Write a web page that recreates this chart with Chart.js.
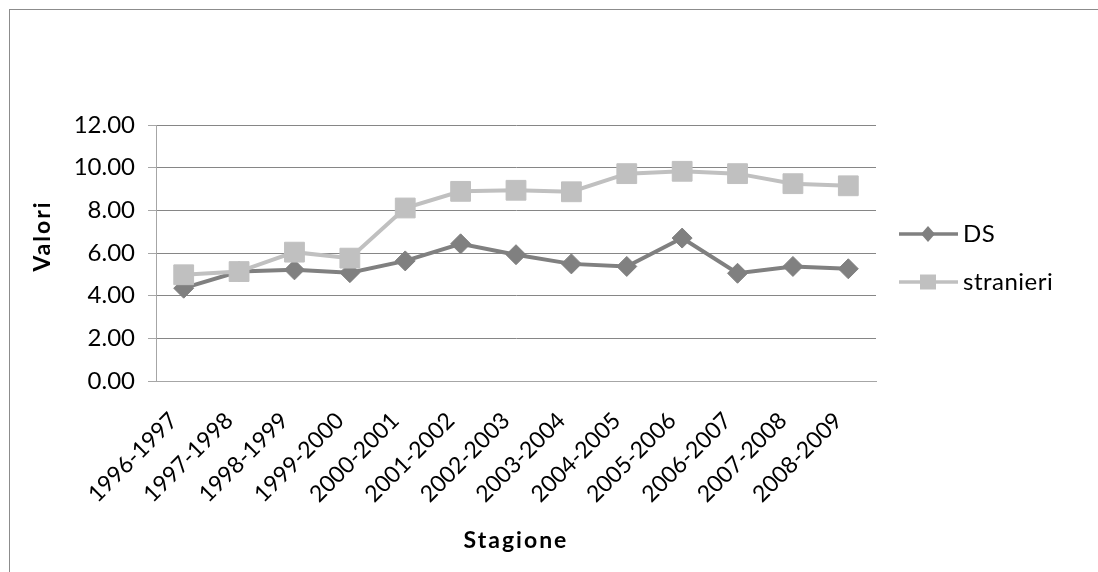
<!DOCTYPE html>
<html>
<head>
<meta charset="utf-8">
<script src="https://cdn.jsdelivr.net/npm/chart.js@4.4.1/dist/chart.umd.min.js"></script>
<style>
  html, body { margin: 0; padding: 0; background: #fff; overflow: hidden; }
  #wrap { position: relative; width: 1098px; height: 572px; }
  #frame { position: absolute; left: 9px; top: 9px; width: 1200px; height: 700px;
           border-left: 1px solid #8c8c8c; border-top: 1px solid #8c8c8c; }
  canvas { position: absolute; left: 0; top: 0; }
</style>
</head>
<body>
<div id="wrap">
  <div id="frame"></div>
  <canvas id="chart" width="1098" height="572"></canvas>
</div>
<script>
// dati
const stagioni = ['1996-1997', '1997-1998', '1998-1999', '1999-2000', '2000-2001', '2001-2002',
  '2002-2003', '2003-2004', '2004-2005', '2005-2006', '2006-2007', '2007-2008', '2008-2009'];
const valoriDS = [4.35, 5.13, 5.21, 5.08, 5.63, 6.43, 5.92, 5.49, 5.37, 6.70, 5.05, 5.37, 5.26];
const valoriStranieri = [4.98, 5.13, 6.04, 5.76, 8.11, 8.89, 8.94, 8.87, 9.72, 9.83, 9.72, 9.25, 9.15];
const yMin = 0;
const yMax = 12;
const yStep = 2;

const FONT = 'Lato';

// titoli degli assi e legenda disegnati a mano (stile Excel)
const extraText = {
  id: 'extraText',
  afterDraw(chart) {
    const ctx = chart.ctx;
    const area = chart.chartArea;
    ctx.save();
    ctx.fillStyle = '#000';
    ctx.font = 'bold 23px ' + FONT;
    ctx.letterSpacing = '2px';
    ctx.textAlign = 'center';
    ctx.textBaseline = 'middle';
    ctx.fillText('Stagione', (area.left + area.right) / 2, 541);
    ctx.save();
    ctx.translate(43, 236);
    ctx.rotate(-Math.PI / 2);
    ctx.fillText('Valori', 0, 0);
    ctx.restore();

    // legenda
    ctx.letterSpacing = '0.5px';
    ctx.font = '24px ' + FONT;
    ctx.textAlign = 'left';
    chart.data.datasets.forEach((ds, i) => {
      const y = 234 + i * 48;
      ctx.strokeStyle = ds.borderColor;
      ctx.lineWidth = 3.5;
      ctx.beginPath();
      ctx.moveTo(899, y);
      ctx.lineTo(958, y);
      ctx.stroke();
      ctx.fillStyle = ds.borderColor;
      ctx.beginPath();
      if (ds.pointStyle === 'rectRot') {
        ctx.moveTo(928 - 7, y);
        ctx.lineTo(928, y - 8);
        ctx.lineTo(928 + 7, y);
        ctx.lineTo(928, y + 8);
        ctx.closePath();
      } else {
        ctx.rect(928 - 8, y - 7.5, 16, 15);
      }
      ctx.fill();
      ctx.fillStyle = '#000';
      ctx.fillText(ds.label, 963, y);
    });
    ctx.restore();
  }
};

new Chart(document.getElementById('chart'), {
  type: 'line',
  data: {
    labels: stagioni,
    datasets: [
      {
        label: 'DS',
        data: valoriDS,
        borderColor: '#808080',
        backgroundColor: '#808080',
        borderWidth: 4,
        pointStyle: 'rectRot',
        pointRadius: 10,
        pointBorderWidth: 1,
        tension: 0,
        order: 1
      },
      {
        label: 'stranieri',
        data: valoriStranieri,
        borderColor: '#c0c0c0',
        backgroundColor: '#c0c0c0',
        borderWidth: 4,
        pointStyle: 'rect',
        pointRadius: 14,
        pointBorderWidth: 1,
        tension: 0,
        order: 0
      }
    ]
  },
  options: {
    responsive: false,
    animation: false,
    devicePixelRatio: 1,
    layout: { padding: { left: 0, top: 125, right: 222, bottom: 0 } },
    plugins: {
      legend: { display: false },
      tooltip: { enabled: false }
    },
    scales: {
      x: {
        offset: true,
        grid: { display: false, drawTicks: false },
        border: { display: true, color: '#a6a6a6', width: 1 },
        ticks: {
          autoSkip: false,
          maxRotation: 45,
          minRotation: 45,
          padding: 26,
          labelOffset: -10,
          color: '#000',
          font: { family: FONT, size: 23 }
        },
        afterFit(scale) { scale.height = 191; }
      },
      y: {
        min: yMin,
        max: yMax,
        grid: { color: '#868686', lineWidth: 1, tickLength: 8, drawTicks: true, tickColor: '#a6a6a6' },
        border: { display: true, color: '#a6a6a6', width: 1 },
        ticks: {
          stepSize: yStep,
          padding: 13,
          color: '#000',
          font: { family: FONT, size: 24 },
          callback: v => v.toFixed(2)
        },
        afterFit(scale) { scale.width = 156; }
      }
    }
  },
  plugins: [extraText]
});
</script>
</body>
</html>
